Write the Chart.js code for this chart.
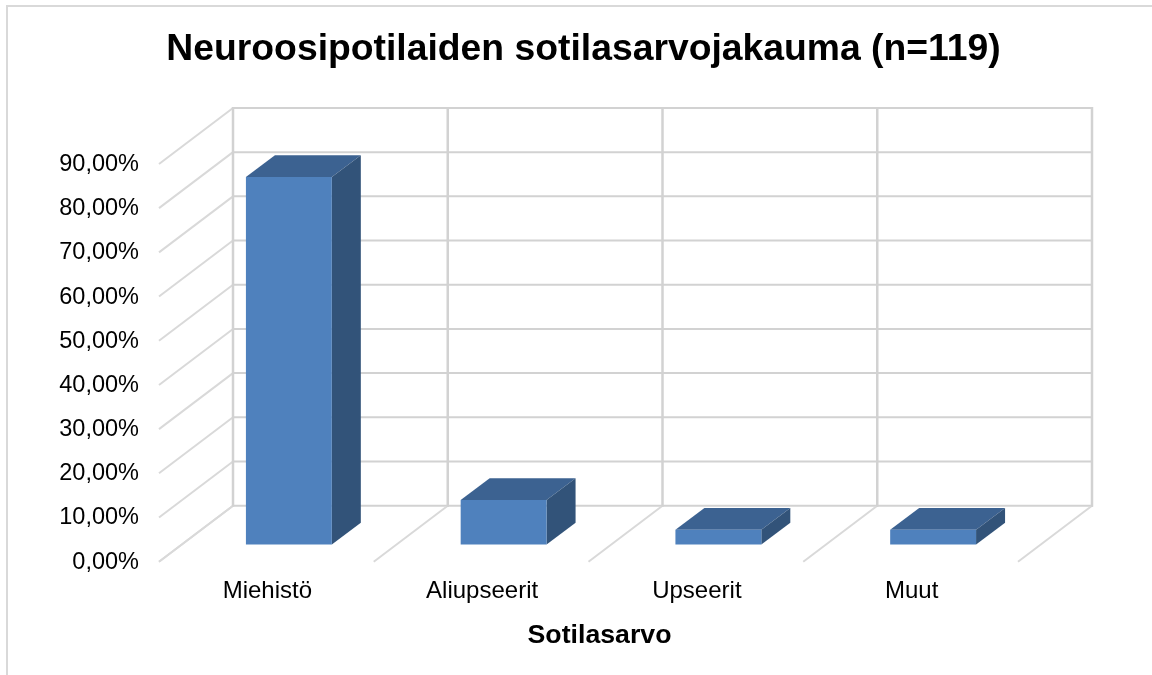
<!DOCTYPE html>
<html><head><meta charset="utf-8">
<script src="https://cdn.jsdelivr.net/npm/chart.js@4"></script>
<style>
html,body{margin:0;padding:0;background:#fff;overflow:hidden}
#frame{position:absolute;left:6px;top:5px;width:1146px;height:670px;border-left:2px solid #d9d9d9;border-top:2px solid #d9d9d9;box-sizing:border-box}
canvas{position:absolute;left:0;top:0}
</style></head><body>
<div id="frame"></div>
<canvas id="c" width="1152" height="675"></canvas>
<script>
const categories = ["Miehistö","Aliupseerit","Upseerit","Muut"];
const shares = [83.19,10.08,3.36,3.36];
const yTicks = [0,10,20,30,40,50,60,70,80,90];
const titleText = "Neuroosipotilaiden sotilasarvojakauma (n=119)";
const xTitle = "Sotilasarvo";

const FONT = "'Liberation Sans', Arial, sans-serif";
const DEPTH = {x:74, y:-56};
const BAR_DEPTH = {x:29, y:-21.7};
const GRID = "#d2d2d2";

const plot3d = {
  id:"plot3d",
  beforeDatasetsDraw(chart){
    const {ctx, scales:{x,y}} = chart;
    const band = x.width/categories.length;
    ctx.save();
    ctx.lineWidth = 2;
    ctx.lineCap = "butt";
    const left = x.left, right = x.right;
    const line=(a,b,c,d,col)=>{ctx.strokeStyle=col;ctx.beginPath();ctx.moveTo(a,b);ctx.lineTo(c,d);ctx.stroke();};
    yTicks.forEach(v=>{
      const p=y.getPixelForValue(v);
      line(left,p,left+DEPTH.x,p+DEPTH.y,"#d9d9d9");
      line(left+DEPTH.x,p+DEPTH.y,right+DEPTH.x+1,p+DEPTH.y,GRID);
    });
    const y0=y.getPixelForValue(0), yMax=y.getPixelForValue(yTicks[yTicks.length-1]);
    for(let i=0;i<=categories.length;i++){
      const px=left+band*i;
      line(px,y0,px+DEPTH.x,y0+DEPTH.y,"#d9d9d9");
      ctx.lineWidth=2.5;
      line(px+DEPTH.x,yMax+DEPTH.y-1,px+DEPTH.x,y0+DEPTH.y+1,GRID);
      ctx.lineWidth=2;
    }
    ctx.restore();
  },
  beforeDatasetDraw(chart,args){
    const {ctx}=chart;
    const ox=(DEPTH.x-BAR_DEPTH.x)/2, oy=(DEPTH.y-BAR_DEPTH.y)/2;
    ctx.save();
    ctx.translate(ox,oy);
    args.meta.data.forEach(b=>{
      const l=b.x-b.width/2, r=b.x+b.width/2, t=b.y, g=b.base;
      const dx=BAR_DEPTH.x, dy=BAR_DEPTH.y;
      ctx.fillStyle="#3c6291";
      ctx.beginPath();ctx.moveTo(l,t);ctx.lineTo(l+dx,t+dy);ctx.lineTo(r+dx,t+dy);ctx.lineTo(r,t);ctx.closePath();ctx.fill();
      ctx.fillStyle="#325379";
      ctx.beginPath();ctx.moveTo(r,t);ctx.lineTo(r+dx,t+dy);ctx.lineTo(r+dx,g+dy);ctx.lineTo(r,g);ctx.closePath();ctx.fill();
    });
  },
  afterDatasetDraw(chart){ chart.ctx.restore(); }
};

new Chart(document.getElementById("c"),{
  type:"bar",
  data:{labels:categories,datasets:[{data:shares,backgroundColor:"#4f81bd",barPercentage:0.4,categoryPercentage:1,clip:false}]},
  plugins:[plot3d],
  options:{
    responsive:false,animation:false,devicePixelRatio:1,
    layout:{padding:{left:15,right:0,top:0,bottom:0}},
    plugins:{
      legend:{display:false},tooltip:{enabled:false},
      title:{display:true,text:titleText,color:"#000",font:{family:FONT,size:37.3,weight:"bold",lineHeight:1.2},padding:{top:27,bottom:92.2}}
    },
    scales:{
      x:{
        grid:{display:false},border:{display:false},
        ticks:{color:"#000",font:{family:FONT,size:24},padding:7,labelOffset:1,maxRotation:0,autoSkip:false},
        title:{display:true,text:xTitle,color:"#000",font:{family:FONT,size:26.7,weight:"bold"},padding:{top:0,bottom:23}},
        afterFit(s){
          s.height=113.3;s.paddingLeft=0;s.paddingRight=134;
          if(!s._titleShifted){
            s._titleShifted=true;
            const drawTitle=s.drawTitle.bind(s);
            s.drawTitle=function(){s.ctx.save();s.ctx.translate(11,0);drawTitle();s.ctx.restore();};
          }
        }
      },
      y:{
        min:0,max:90,
        grid:{display:false},border:{display:false},
        afterBuildTicks(s){s.ticks=yTicks.map(v=>({value:v}));},
        ticks:{color:"#000",font:{family:FONT,size:23.5},padding:12,labelOffset:0.5,
          callback:v=>v.toFixed(2).replace(".",",")+"%"},
        afterFit(s){s.width=144;s.paddingTop=0;s.paddingBottom=0;}
      }
    }
  }
});
</script>
</body></html>
